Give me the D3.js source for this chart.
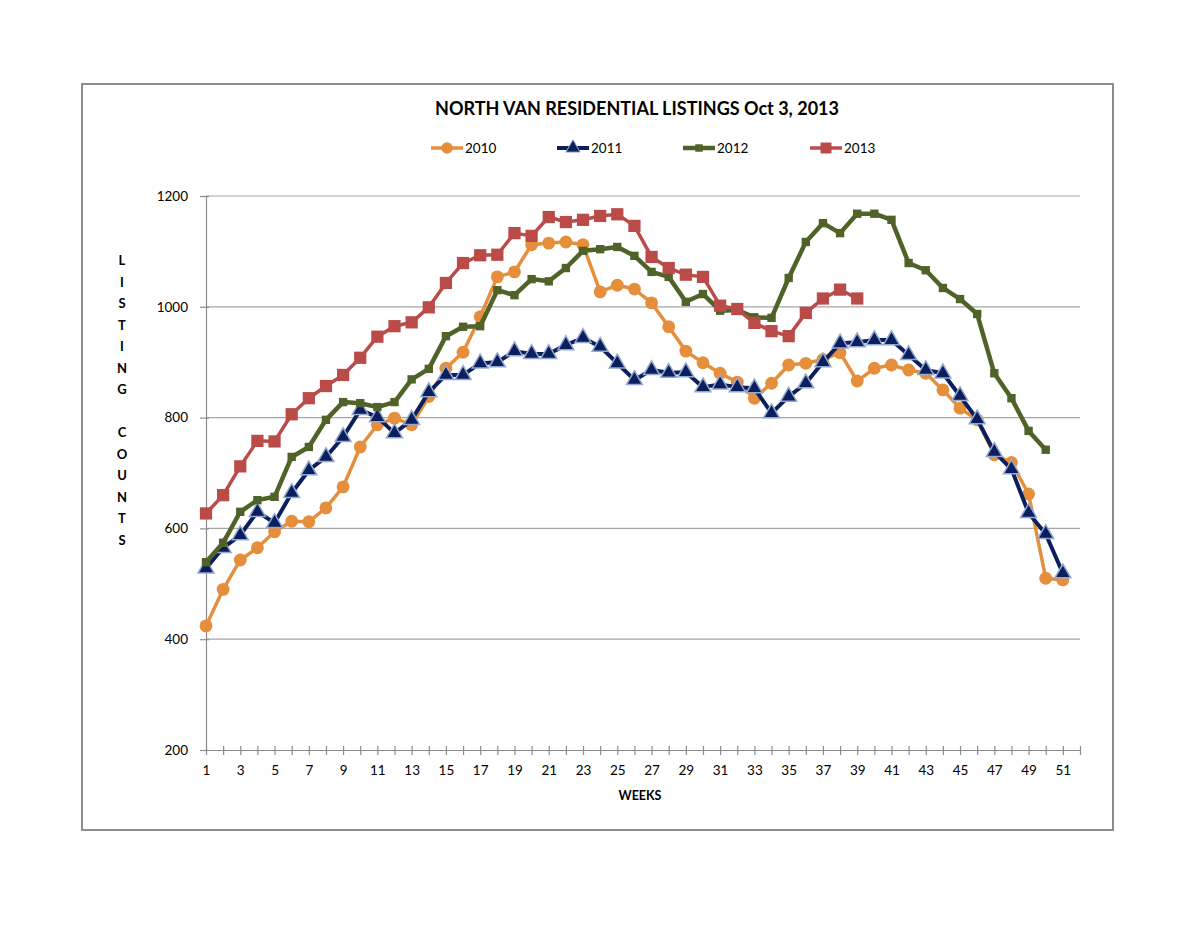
<!DOCTYPE html>
<html>
<head>
<meta charset="utf-8">
<title>North Van Residential Listings</title>
<script src="https://d3js.org/d3.v7.min.js"></script>
<style>
  body { margin: 0; background: #fff; }
  text { font-family: Lato, "Open Sans", sans-serif; fill: #000; }
</style>
</head>
<body>
<svg width="1200" height="927"></svg>
<script>
// weekly listing counts
const weeks = d3.range(1, 53);
const s2010 = [424,490,543,565,594,613,612,637,675,747,787,799,787,838,889,918,982,1054,1063,1112,1115,1117,1112,1027,1039,1032,1007,964,920,899,880,864,835,862,895,898,905,917,866,889,895,886,880,850,817,796,733,719,662,510,507];
const s2011 = [528,565,588,630,610,664,705,729,765,814,801,772,796,846,877,877,898,900,920,915,915,931,944,928,898,868,886,881,882,855,860,855,853,808,838,862,900,934,936,940,940,913,886,880,839,797,738,707,628,590,519];
const s2012 = [539,574,630,651,657,729,747,796,828,826,819,828,869,888,947,964,965,1030,1021,1050,1046,1070,1101,1104,1108,1092,1063,1054,1009,1023,993,994,981,980,1052,1117,1151,1133,1168,1168,1157,1079,1066,1034,1014,987,880,835,776,742];
const s2013 = [627,660,712,758,757,806,835,857,877,908,946,965,972,999,1043,1079,1093,1094,1133,1128,1162,1153,1157,1164,1167,1146,1090,1070,1058,1054,1002,996,971,956,947,989,1015,1031,1015];
const yTicks = [200,400,600,800,1000,1200];
const xLabels = d3.range(1, 52, 2);
const yLabel = ["L","I","S","T","I","N","G","","C","O","U","N","T","S"];

const series = [
  {name:"2010", values:s2010, color:"#E58F3D", symbol:d3.symbolCircle, size:130, stroke:"none", lw:3.5},
  {name:"2011", values:s2011, color:"#0B1F5E", symbol:d3.symbolTriangle, size:110, stroke:"#93A9CF", lw:4},
  {name:"2012", values:s2012, color:"#4F6228", symbol:d3.symbolSquare, size:70, stroke:"none", lw:4.5},
  {name:"2013", values:s2013, color:"#BA4B48", symbol:d3.symbolSquare, size:150, stroke:"none", lw:3.5}
];

const svg = d3.select("svg");

// outer chart border
svg.append("rect").attr("x", 82).attr("y", 84).attr("width", 1031).attr("height", 746)
  .attr("fill", "none").attr("stroke", "#8c8c8c").attr("stroke-width", 2);

const x = d3.scaleLinear().domain([1, 52]).range([206, 1080]);
const y = d3.scaleLinear().domain([200, 1200]).range([750, 196]);

// gridlines
svg.append("g").selectAll("line").data(yTicks.slice(1)).join("line")
  .attr("x1", 206).attr("x2", 1080)
  .attr("y1", d => y(d)).attr("y2", d => y(d))
  .attr("stroke", "#a6a6a6").attr("stroke-width", 1.2);

// y axis
const yAxis = svg.append("g").attr("transform", "translate(206,0)")
  .call(d3.axisLeft(y).tickValues(yTicks).tickFormat(d3.format("d")).tickSize(6).tickPadding(12));
yAxis.selectAll("text").style("font-size", "13.5px").style("font-family", "Lato, 'Open Sans', sans-serif");

// x axis: a tick for every week, labels on odd weeks
const xAxis = svg.append("g").attr("transform", "translate(0,750)")
  .call(d3.axisBottom(x).tickValues(weeks).tickSizeInner(5).tickSizeOuter(0).tickPadding(10)
    .tickFormat(d => xLabels.includes(d) ? d : ""));
xAxis.selectAll(".tick line").attr("y1", -4);
xAxis.selectAll("text").style("font-size", "13.5px").style("font-family", "Lato, 'Open Sans', sans-serif");
[yAxis, xAxis].forEach(a => {
  a.select(".domain").attr("stroke", "#8c8c8c").attr("stroke-width", 1.2);
  a.selectAll(".tick line").attr("stroke", "#8c8c8c").attr("stroke-width", 1.2);
});
yAxis.selectAll(".tick line").attr("x2", -6).attr("x1", 3);

// lines and markers
const line = d3.line().x((d, i) => x(weeks[i])).y(d => y(d));
series.forEach(s => {
  svg.append("path").datum(s.values).attr("d", line)
    .attr("fill", "none").attr("stroke", s.color).attr("stroke-width", s.lw)
    .attr("stroke-linejoin", "round");
  svg.append("g").selectAll("path").data(s.values).join("path")
    .attr("transform", (d, i) => `translate(${x(weeks[i])},${y(d)})`)
    .attr("d", d3.symbol().type(s.symbol).size(s.size))
    .attr("fill", s.color).attr("stroke", s.stroke).attr("stroke-width", 1.5);
});

// title
svg.append("text").attr("x", 637).attr("y", 115).attr("text-anchor", "middle")
  .style("font-size", "18px").style("font-weight", "bold")
  .text("NORTH VAN RESIDENTIAL LISTINGS Oct 3, 2013");

// legend
const legendX = [431, 557, 683, 810];
series.forEach((s, i) => {
  const g = svg.append("g").attr("transform", `translate(${legendX[i]},148)`);
  g.append("line").attr("x1", 0).attr("x2", 32).attr("stroke", s.color).attr("stroke-width", s.lw);
  g.append("path").attr("transform", "translate(16,0)")
    .attr("d", d3.symbol().type(s.symbol).size(s.size * 0.8))
    .attr("fill", s.color).attr("stroke", s.stroke).attr("stroke-width", 1);
  g.append("text").attr("x", 34).attr("y", 5).style("font-size", "13.5px").text(s.name);
});

// axis titles
svg.append("text").attr("x", 640).attr("y", 800).attr("text-anchor", "middle")
  .style("font-size", "12.5px").style("font-weight", "bold").text("WEEKS");
svg.append("g").selectAll("text").data(yLabel).join("text")
  .attr("x", 122).attr("y", (d, i) => 265 + i * 21.5).attr("text-anchor", "middle")
  .style("font-size", "13px").style("font-weight", "bold").text(d => d);
</script>
</body>
</html>
